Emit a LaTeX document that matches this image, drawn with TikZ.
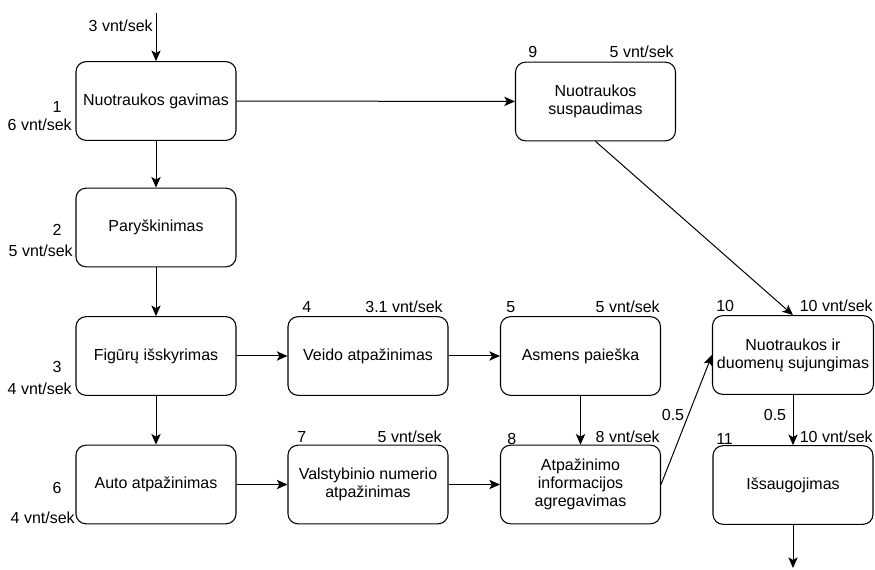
\documentclass[tikz,border=0pt]{standalone}
\usepackage{fontspec}
\setmainfont{Liberation Sans}
\usetikzlibrary{arrows.meta}

\begin{document}
\begin{tikzpicture}[x=0.75pt,y=-0.75pt,
  blk/.style={draw,rounded corners=7.5pt,minimum width=120pt,minimum height=59pt,
    align=center,line width=0.8pt,font=\fontsize{12}{13.5}\selectfont},
  lbl/.style={font=\fontsize{12}{14}\selectfont,inner sep=0pt},
  flow/.style={-{Stealth[length=8pt,width=7pt,inset=2pt]},line width=0.75pt}]
  \useasboundingbox (0,0) rectangle (875,570);
  % process blocks
  \node[blk] (b1) at (156,101) {Nuotraukos gavimas};
  \node[blk] (b9) at (595.5,101.5) {Nuotraukos\\suspaudimas};
  \node[blk] (b2) at (156,227.5) {Paryškinimas};
  \node[blk] (b3) at (156,356) {Figūrų išskyrimas};
  \node[blk] (b4) at (368,356) {Veido atpažinimas};
  \node[blk] (b5) at (580.5,356) {Asmens paieška};
  \node[blk] (b10) at (793,355) {Nuotraukos ir\\duomenų sujungimas};
  \node[blk] (b6) at (156,484.5) {Auto atpažinimas};
  \node[blk] (b7) at (368,484.5) {Valstybinio numerio\\atpažinimas};
  \node[blk] (b8) at (580.5,484.5) {Atpažinimo\\informacijos\\agregavimas};
  \node[blk] (b11) at (793,485) {Išsaugojimas};
  \coordinate (in) at (156,13);
  \coordinate (out) at (793,568);
  % block numbers and rates
  \foreach \x/\y/\t [count=\i] in {57/113/1,57/236/2,57/373/3,57/493/6,673/420/0.5,775/420/0.5}
    {\node[lbl,anchor=base] (num\i) at (\x,\y) {\t};}
  \foreach \x/\y/\t [count=\i] in {528/58/9,302/313/4,506/313/5,297/442/7,507/444/8,716/312/10,716/444/11}
    {\node[lbl,anchor=base west] (id\i) at (\x,\y) {\t};}
  \foreach \x/\y/\t [count=\i] in {153/32/3,72/131/6,73/257/5,72/394/4,75/523/4,674/58/5,443/313/3.1,660/313/5,442/442/5,660/442/8,873/312/10,873/442/10}
    {\node[lbl,anchor=base east] (rate\i) at (\x,\y) {\t\ vnt/sek};}
  % connections
  \draw[flow] (in) -- (b1);
  \draw[flow] (b1) -- (b9);
  \draw[flow] (b1) -- (b2);
  \draw[flow] (b2) -- (b3);
  \draw[flow] (b3) -- (b6);
  \draw[flow] (b3) -- (b4);
  \draw[flow] (b4) -- (b5);
  \draw[flow] (b5) -- (b8);
  \draw[flow] (b6) -- (b7);
  \draw[flow] (b7) -- (b8);
  \draw[flow] (b9.south) -- (b10.north);
  \draw[flow] (b8.east) -- (b10.west);
  \draw[flow] (b10) -- (b11);
  \draw[flow] (b11) -- (out);
\end{tikzpicture}
\end{document}
